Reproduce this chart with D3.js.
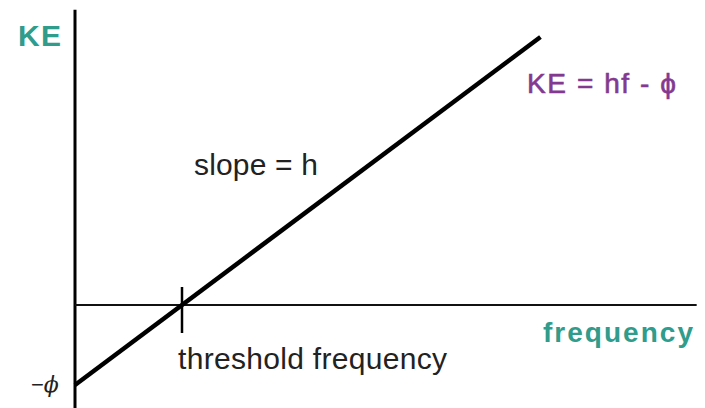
<!DOCTYPE html>
<html>
<head>
<meta charset="utf-8">
<script src="https://cdn.jsdelivr.net/npm/d3@7"></script>
<style>
  body { margin: 0; background: #fff; }
</style>
</head>
<body>
<div id="chart"></div>
<script>
// data (arbitrary units, phi = 1, threshold frequency = 1)
var frequency = [0, 4.35];
var kineticEnergy = [-1, 3.35];
var thresholdFreq = 1;
var axisFreq = [0, 5.81];
var axisKE = [-1.29, 3.69];

var width = 705, height = 408;

var svg = d3.select("#chart")
  .append("svg")
    .attr("width", width)
    .attr("height", height);

// scales
var x = d3.scaleLinear()
  .domain([0, 1])
  .range([75, 182]);
var y = d3.scaleLinear()
  .domain([0, -1])
  .range([305, 385]);

// vertical axis (KE)
svg.append("line")
  .attr("x1", x(0)).attr("x2", x(0))
  .attr("y1", y(axisKE[1])).attr("y2", y(axisKE[0]))
  .attr("stroke", "#000")
  .attr("stroke-width", 3);

// horizontal axis (frequency)
svg.append("line")
  .attr("x1", x(axisFreq[0])).attr("x2", x(axisFreq[1]))
  .attr("y1", y(0)).attr("y2", y(0))
  .attr("stroke", "#111")
  .attr("stroke-width", 2.2);

// threshold tick
svg.append("line")
  .attr("x1", x(thresholdFreq)).attr("x2", x(thresholdFreq))
  .attr("y1", y(0) - 18).attr("y2", y(0) + 28)
  .attr("stroke", "#000")
  .attr("stroke-width", 2.5);

// KE = hf - phi line
var pts = frequency.map(function(f, i) { return [f, kineticEnergy[i]]; });
svg.append("path")
  .datum(pts)
  .attr("fill", "none")
  .attr("stroke", "#000")
  .attr("stroke-width", 4.5)
  .attr("d", d3.line()
    .x(function(d) { return x(d[0]); })
    .y(function(d) { return y(d[1]); }));

// labels
var sans = "'Liberation Sans', Arial, Helvetica, sans-serif";

svg.append("text")
  .attr("x", 18).attr("y", 46)
  .attr("font-family", sans)
  .attr("font-weight", "bold")
  .attr("font-size", 30)
  .attr("fill", "#2f9c8c")
  .attr("textLength", 43)
  .text("KE");

svg.append("text")
  .attr("x", 543).attr("y", 342)
  .attr("font-family", sans)
  .attr("font-weight", "bold")
  .attr("font-size", 28)
  .attr("fill", "#2f9c8c")
  .attr("textLength", 150)
  .text("frequency");

svg.append("text")
  .attr("x", 527).attr("y", 93)
  .attr("font-family", sans)
  .attr("font-size", 28)
  .attr("fill", "#83398f")
  .attr("stroke", "#83398f")
  .attr("stroke-width", 0.6)
  .attr("textLength", 149)
  .text("KE = hf - ϕ");

svg.append("text")
  .attr("x", 194).attr("y", 175)
  .attr("font-family", sans)
  .attr("font-size", 30)
  .attr("fill", "#222")
  .attr("textLength", 124)
  .text("slope = h");

svg.append("text")
  .attr("x", 178).attr("y", 369)
  .attr("font-family", sans)
  .attr("font-size", 30)
  .attr("fill", "#222")
  .attr("textLength", 269)
  .text("threshold frequency");

var phiLabel = svg.append("text")
  .attr("x", 31).attr("y", 392)
  .attr("font-family", sans)
  .attr("font-size", 22)
  .attr("fill", "#222");
phiLabel.append("tspan").text("−");
phiLabel.append("tspan")
  .attr("font-family", "'DejaVu Serif', serif")
  .attr("font-style", "italic")
  .text("ϕ");
</script>
</body>
</html>
